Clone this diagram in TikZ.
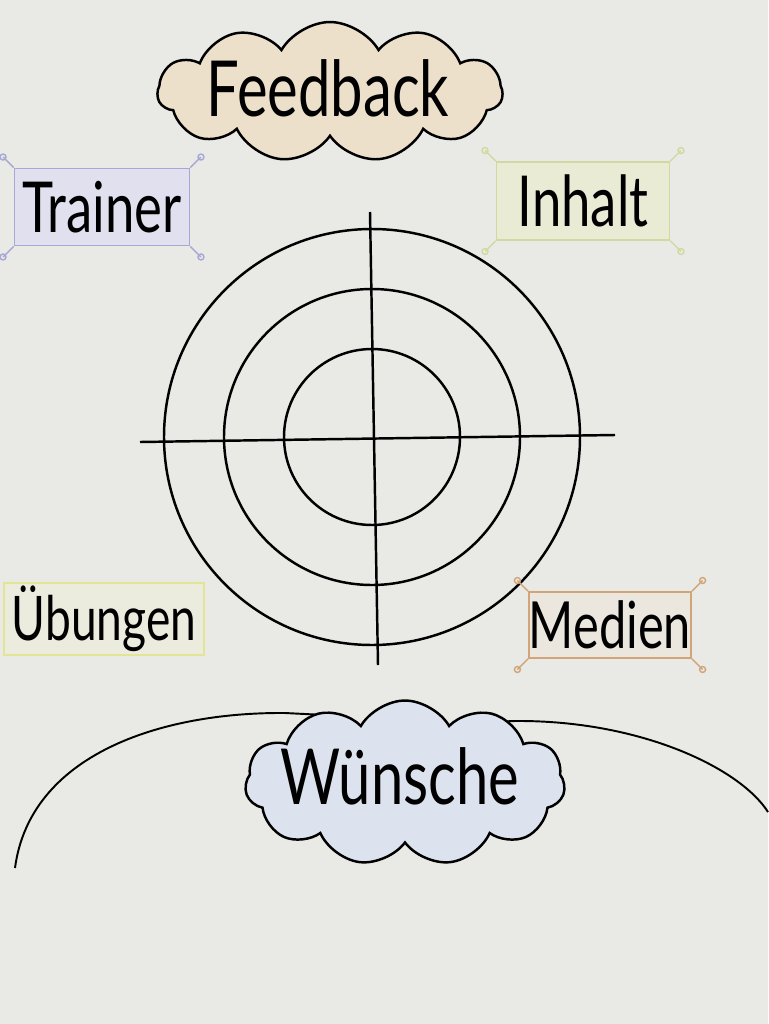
\documentclass[tikz,border=0pt]{standalone}
\usepackage{fontspec}
\setmainfont[FakeStretch=0.75]{Lato}
\usepackage{tikz}
\usetikzlibrary{shapes.symbols}

\definecolor{paper}{RGB}{233,233,229}
\definecolor{beige}{RGB}{236,224,202}
\definecolor{skyfill}{RGB}{221,227,238}
\definecolor{lilac}{RGB}{168,168,214}
\definecolor{lilacfill}{RGB}{224,224,238}
\definecolor{lime}{RGB}{208,218,160}
\definecolor{limefill}{RGB}{233,235,212}
\definecolor{lemon}{RGB}{228,228,150}
\definecolor{lemonfill}{RGB}{236,236,222}
\definecolor{copper}{RGB}{210,165,120}
\definecolor{copperfill}{RGB}{236,231,222}

% hooks on the corners of a banner
\newcommand{\bannerhooks}[2]{%
  \foreach \c/\a in {north west/-135, north east/-45, south west/135, south east/45}
    \draw[#2, line width=0.8pt] (#1.\c) -- ++(\a:15) circle[radius=3];
}

\begin{document}
\begin{tikzpicture}[x=0.02cm, y=-0.02cm,
    marker/.style={line width=1.4pt, black},
    word/.style={font=\fontsize{40}{40}\selectfont},
    bigword/.style={font=\fontsize{44}{44}\selectfont},
    banner/.style 2 args={draw=#1, fill=#2, line width=1pt, inner sep=0pt},
    puff/.style={cloud, cloud puffs=11, cloud puff arc=120, draw, line width=1.4pt, inner sep=0pt}]

    % Paper
    \fill[paper] (0,0) rectangle (768,1024);
    \useasboundingbox (0,0) rectangle (768,1024);

    % Big arc at the bottom (its middle runs hidden under the cloud)
    \coordinate (arcL) at (15,868);
    \coordinate (arcR) at (768,812);
    \draw[line width=1.1pt] (arcL) .. controls (30,755) and (160,712) .. (285,713)
        -- (325,715) -- (405,790) -- (485,722) -- (515,721)
        .. controls (640,720) and (740,768) .. (arcR);

    % Target
    \coordinate (mid) at (372,437);
    \foreach \r/\n in {88/1, 148/2, 208/3}
        \node[marker, circle, draw, minimum size=2*\r*0.02cm, inner sep=0pt] (ring\n) at (mid) {};
    \coordinate (axisT) at (370,212);
    \coordinate (axisB) at (378,665);
    \coordinate (axisL) at (140,442);
    \coordinate (axisR) at (615,435);
    \draw[marker] (axisT) -- (axisB);
    \draw[marker] (axisL) -- (axisR);

    % Clouds
    \node[puff, fill=beige, aspect=2.6, minimum width=6.9cm, minimum height=2.8cm] (feedbackcloud) at (330,92) {};
    \node[bigword] (feedback) at (328,88) {Feedback};
    \node[puff, fill=skyfill, aspect=2, minimum width=6.4cm, minimum height=3.3cm] (wuenschecloud) at (405,783) {};
    \node[bigword] (wuensche) at (400,776) {Wünsche};

    % Banners
    \node[banner={lilac}{lilacfill}, minimum width=3.5cm, minimum height=1.54cm, word] (trainer) at (102,207) {Trainer};
    \node[banner={lime}{limefill}, minimum width=3.46cm, minimum height=1.56cm, word] (inhalt) at (583,201) {Inhalt};
    \node[banner={lemon}{lemonfill}, minimum width=4cm, minimum height=1.44cm, font=\fontsize{35}{35}\selectfont] (uebungen) at (104,619) {Übungen};
    \node[banner={copper}{copperfill}, minimum width=3.2cm, minimum height=1.32cm, font=\fontsize{37}{37}\selectfont] (medien) at (610,625) {Medien};
    \bannerhooks{trainer}{lilac}
    \bannerhooks{inhalt}{lime}
    \bannerhooks{medien}{copper}
\end{tikzpicture}
\end{document}
